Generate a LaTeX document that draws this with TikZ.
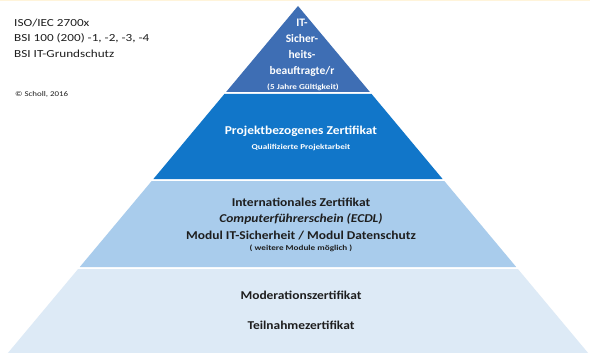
\documentclass[tikz,border=0pt]{standalone}
\usepackage{fontspec}
\setmainfont{Carlito}
\newfontfamily\wideA[FakeStretch=1.12]{Carlito}
\newfontfamily\wideB[FakeStretch=1.22]{Carlito}
\definecolor{lvA}{HTML}{3E6EB4}
\definecolor{lvB}{HTML}{1176C9}
\definecolor{lvC}{HTML}{A9CCEC}
\definecolor{lvD}{HTML}{DDEAF6}
\definecolor{txt}{HTML}{1E1E1E}
\definecolor{topline}{HTML}{FFF4DA}
\begin{document}
\begin{tikzpicture}[x=1pt,y=-1pt,
  apex/.style={font=\fontsize{11.5}{16}\selectfont\bfseries, align=center, inner sep=0pt},
  big/.style={font=\wideA\fontsize{12}{16.5}\selectfont\bfseries, align=center, inner sep=0pt},
  small/.style={font=\wideB\fontsize{7.5}{9}\selectfont\bfseries, align=center, inner sep=0pt},
  side/.style={font=\wideB\fontsize{10.8}{15.5}\selectfont, align=left, anchor=north west, inner sep=0pt, text=txt}]
\useasboundingbox (0,0) rectangle (590,353);
\fill[white] (0,0) rectangle (590,353);
\fill[topline] (0,0) rectangle (590,1.5);
% layers
\fill[lvA] (298,6) -- (369.9,92) -- (226.1,92) -- cycle;
\fill[lvB] (224.4,94) -- (371.6,94) -- (442.6,179) -- (153.4,179) -- cycle;
\fill[lvC] (151.7,181) -- (444.3,181) -- (516.2,267) -- (79.8,267) -- cycle;
\fill[lvD] (78.1,269) -- (517.9,269) -- (588.1,353) -- (7.9,353) -- cycle;
% side text
\node[side] (norms) at (14,18.5) {ISO/IEC 2700x\\BSI 100 (200) -1, -2, -3, -4\\BSI IT-Grundschutz};
\node[side, font=\wideB\fontsize{7.3}{9}\selectfont] (copy) at (15,91.5) {© Scholl, 2016};
% top
\node[apex, text=white] (itsb) at (302,47.5) {IT-\\Sicher-\\heits-\\beauftragte/r};
\node[small, text=white] (gueltig) at (303,87) {(5 Jahre Gültigkeit)};
% second
\node[big, text=white] (proj) at (301,131) {Projektbezogenes Zertifikat};
\node[small, text=white] (qual) at (301,147) {Qualifizierte Projektarbeit};
% third
\node[big, text=txt] (intl) at (301,219) {Internationales Zertifikat\\\textit{Computerführerschein (ECDL)}\\Modul IT-Sicherheit / Modul Datenschutz};
\node[small, text=txt] (weitere) at (301,248) {( weitere Module möglich )};
% bottom
\node[big, text=txt] (mod) at (301,295) {Moderationszertifikat};
\node[big, text=txt] (teil) at (301,325) {Teilnahmezertifikat};
\end{tikzpicture}
\end{document}
